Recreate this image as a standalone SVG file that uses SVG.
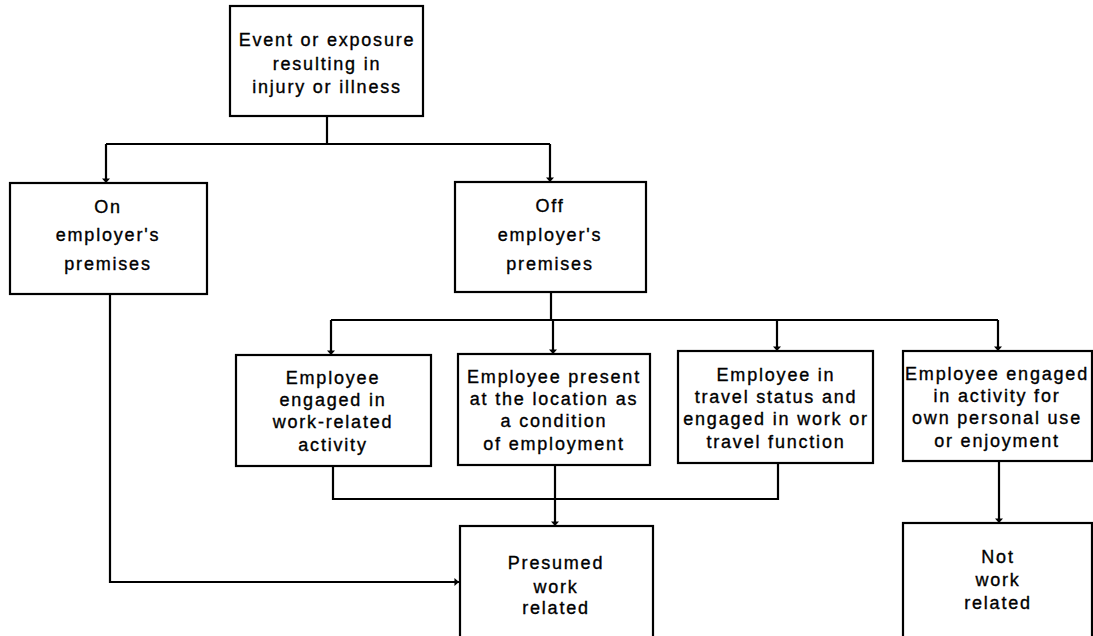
<svg xmlns="http://www.w3.org/2000/svg" width="1093" height="636" viewBox="0 0 1093 636">
<style>
.box{fill:#fff;stroke:#000;stroke-width:2.2}
.t{font-family:"Liberation Sans",Arial,sans-serif;font-size:18px;letter-spacing:1.8px;text-anchor:middle;fill:#000;stroke:#000;stroke-width:0.35}
.c{fill:none;stroke:#000;stroke-width:2.2}
</style>
<defs>
<marker id="a" viewBox="0 0 8 14" refX="8" refY="7" markerWidth="14" markerHeight="8" markerUnits="userSpaceOnUse" orient="auto">
<path d="M0,0 L8,7 L0,14 z" fill="#000"/>
</marker>
</defs>
<rect width="1093" height="636" fill="#fff"/>
<g id="connectors">
<path class="c" d="M327,116 V144"/>
<path class="c" d="M106,144 H550"/>
<path class="c" d="M106,144 V183" marker-end="url(#a)"/>
<path class="c" d="M550,144 V182" marker-end="url(#a)"/>
<path class="c" d="M551,292 V320"/>
<path class="c" d="M331,320 H998"/>
<path class="c" d="M331,320 V355" marker-end="url(#a)"/>
<path class="c" d="M553,320 V354" marker-end="url(#a)"/>
<path class="c" d="M777,320 V351" marker-end="url(#a)"/>
<path class="c" d="M998,320 V351" marker-end="url(#a)"/>
<path class="c" d="M333,466 V499 H778 V463"/>
<path class="c" d="M555,465 V526" marker-end="url(#a)"/>
<path class="c" d="M110,294 V582 H459" marker-end="url(#a)"/>
<path class="c" d="M999,461 V523" marker-end="url(#a)"/>
</g>
<g id="event">
<rect class="box" x="230" y="6" width="193" height="110"/>
<text class="t" x="327" y="46">Event or exposure</text>
<text class="t" x="327" y="70">resulting in</text>
<text class="t" x="327" y="93">injury or illness</text>
</g>
<g id="on">
<rect class="box" x="10" y="183" width="197" height="111"/>
<text class="t" x="108" y="213">On</text>
<text class="t" x="108" y="241">employer's</text>
<text class="t" x="108" y="270">premises</text>
</g>
<g id="off">
<rect class="box" x="455" y="182" width="191" height="110"/>
<text class="t" x="550" y="212">Off</text>
<text class="t" x="550" y="241">employer's</text>
<text class="t" x="550" y="270">premises</text>
</g>
<g id="workactivity">
<rect class="box" x="236" y="355" width="195" height="111"/>
<text class="t" x="333" y="384">Employee</text>
<text class="t" x="333" y="406">engaged in</text>
<text class="t" x="333" y="428">work-related</text>
<text class="t" x="333" y="451">activity</text>
</g>
<g id="present">
<rect class="box" x="458" y="354" width="192" height="111"/>
<text class="t" x="554" y="383">Employee present</text>
<text class="t" x="554" y="405">at the location as</text>
<text class="t" x="554" y="427">a condition</text>
<text class="t" x="554" y="450">of employment</text>
</g>
<g id="travel">
<rect class="box" x="678" y="351" width="195" height="112"/>
<text class="t" x="776" y="381">Employee in</text>
<text class="t" x="776" y="403">travel status and</text>
<text class="t" x="776" y="425">engaged in work or</text>
<text class="t" x="776" y="448">travel function</text>
</g>
<g id="personal">
<rect class="box" x="903" y="351" width="189" height="110"/>
<text class="t" x="997" y="380">Employee engaged</text>
<text class="t" x="997" y="402">in activity for</text>
<text class="t" x="997" y="424">own personal use</text>
<text class="t" x="997" y="447">or enjoyment</text>
</g>
<g id="presumed">
<rect class="box" x="460" y="526" width="193" height="115"/>
<text class="t" x="556" y="569">Presumed</text>
<text class="t" x="556" y="593">work</text>
<text class="t" x="556" y="614">related</text>
</g>
<g id="notwork">
<rect class="box" x="903" y="523" width="189" height="118"/>
<text class="t" x="998" y="563">Not</text>
<text class="t" x="998" y="586">work</text>
<text class="t" x="998" y="609">related</text>
</g>
</svg>
